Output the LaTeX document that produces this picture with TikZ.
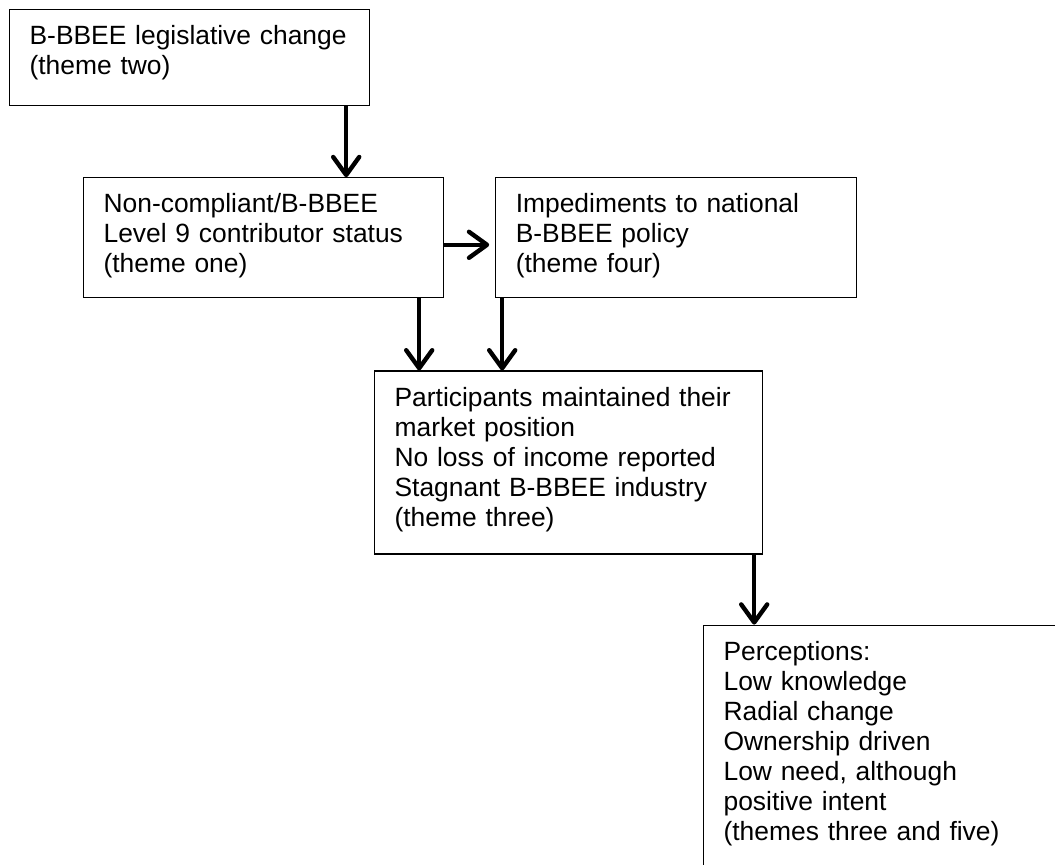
\documentclass[tikz,border=0pt]{standalone}
\usepackage{fontspec}
\setmainfont{Liberation Sans}
\usetikzlibrary{arrows.meta,positioning}

\begin{document}
\begin{tikzpicture}[
  theme/.style={rectangle, draw, line width=0.6pt, anchor=north west,
                align=left, inner xsep=10pt, inner ysep=0pt, text height=17.5pt,
                font=\fontsize{13.2pt}{15pt}\selectfont},
  arr/.style={-{Straight Barb[length=9pt,width=13pt,round]}, line width=2.2pt},
]
  \useasboundingbox (0,0) rectangle (527.5pt,-432pt);

  \node[theme, text width=160pt, text depth=30.5pt] (legis) at (4.5pt,-4.5pt)
    {B-BBEE legislative change\\(theme two)};
  \node[theme, text width=160pt, text depth=42.5pt, below=35.5pt of legis.south west,
        anchor=north west, xshift=37pt] (status)
    {Non-compliant/B-BBEE\\Level 9 contributor status\\(theme one)};
  \node[theme, text width=160.5pt, text depth=42.5pt, right=25.5pt of status.north east,
        anchor=north west] (barrier)
    {Impediments to national\\B-BBEE policy\\(theme four)};
  \node[theme, text width=174pt, text depth=74pt, below=36pt of status.south west,
        anchor=north west, xshift=145.5pt] (outcome)
    {Participants maintained their\\market position\\No loss of income reported\\Stagnant B-BBEE industry\\(theme three)};
  \node[theme, text width=165pt, text depth=117.5pt, below=35pt of outcome.south west,
        anchor=north west, xshift=164.5pt] (percept)
    {Perceptions:\\Low knowledge\\Radial change\\Ownership driven\\Low need, although\\positive intent\\(themes three and five)};

  \draw[arr] ([xshift=-12pt]legis.south east) -- ([xshift=-12pt]legis.south east |- status.north);
  \draw[arr, shorten >=3pt] ([yshift=-3.5pt]status.east) -- ([yshift=-3.5pt]status.east -| barrier.west);
  \draw[arr] ([xshift=-12.5pt]status.south east) -- ([xshift=-12.5pt]status.south east |- outcome.north);
  \draw[arr] ([xshift=3.5pt]barrier.south west) -- ([xshift=3.5pt]barrier.south west |- outcome.north);
  \draw[arr] ([xshift=-4.5pt]outcome.south east) -- ([xshift=-4.5pt]outcome.south east |- percept.north);
\end{tikzpicture}
\end{document}
